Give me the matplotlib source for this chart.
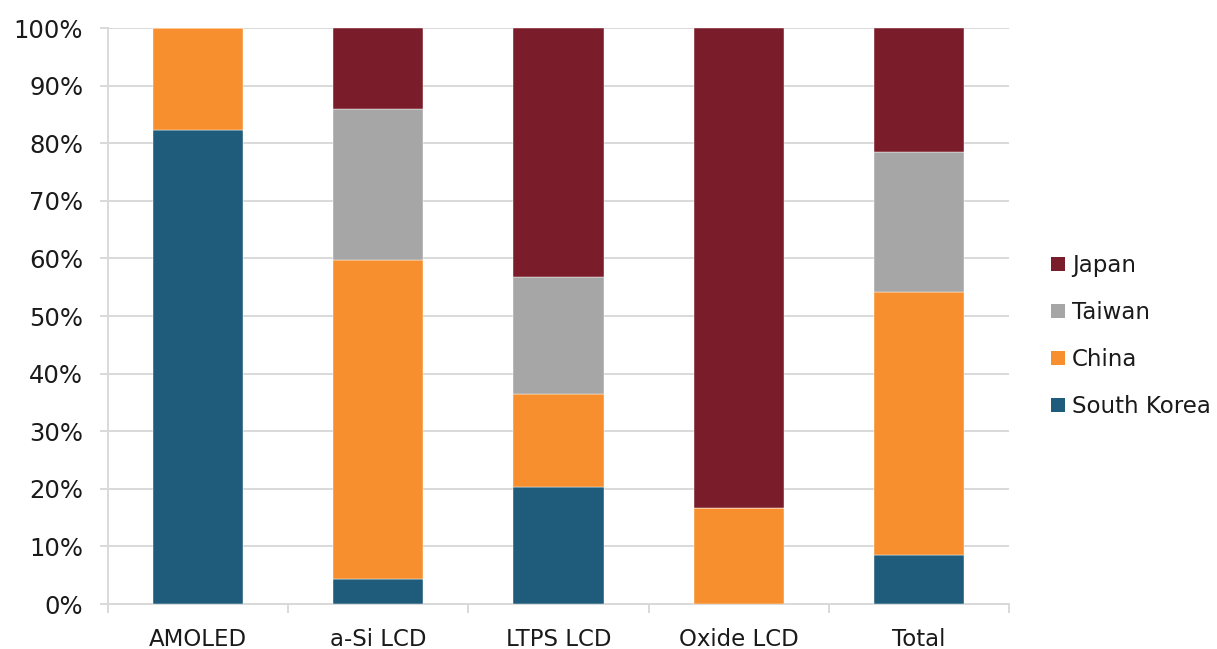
import matplotlib
matplotlib.use("Agg")
import matplotlib.pyplot as plt
import numpy as np
from matplotlib.patches import Patch
from matplotlib.ticker import FixedLocator, PercentFormatter

plt.rcParams['font.family'] = ['DejaVu Sans']

categories = ["AMOLED", "a-Si LCD", "LTPS LCD", "Oxide LCD", "Total"]
south_korea = [82.3, 4.3, 20.3, 0.0, 8.5]
china = [17.7, 55.5, 16.1, 16.6, 45.6]
taiwan = [0.0, 26.2, 20.4, 0.0, 24.4]
japan = [0.0, 14.0, 43.2, 83.4, 21.5]

series = [
    ("South Korea", south_korea, "#1F5B7A"),
    ("China", china, "#F78F2E"),
    ("Taiwan", taiwan, "#A6A6A6"),
    ("Japan", japan, "#7B1C2A"),
]

W, H = 1217, 649
fig = plt.figure(figsize=(W / 100, H / 100), dpi=100)
ax = fig.add_axes([108 / W, 45 / H, (1009 - 108) / W, (604 - 28) / H])

x = np.arange(len(categories))
bottom = np.zeros(len(categories))
for name, vals, color in series:
    vals = np.array(vals)
    ax.bar(x, vals, 0.5, bottom=bottom, color=color, edgecolor="#ffffff",
           linewidth=0.3, zorder=3)
    bottom += vals

grid_c = "#D9D9D9"
text_c = "#1a1a1a"
ax.set_xlim(-0.5, len(categories) - 0.5)
ax.set_ylim(0, 100)
ax.yaxis.set_major_locator(FixedLocator(np.arange(0, 101, 10)))
ax.yaxis.set_major_formatter(PercentFormatter(decimals=0))
ax.grid(axis="y", color=grid_c, linewidth=1.4, zorder=0)
ax.set_xticks(x)
ax.set_xticklabels(categories)
ax.set_xticks(np.arange(-0.5, len(categories)), minor=True)
ax.tick_params(axis="x", which="major", length=0, pad=17, labelsize=16.5, labelcolor=text_c)
ax.tick_params(axis="x", which="minor", length=6.5, width=1.4, color=grid_c)
ax.tick_params(axis="y", length=5.8, width=1.4, color=grid_c, labelsize=17.5,
               labelcolor=text_c, pad=12)
for s in ["top", "right"]:
    ax.spines[s].set_visible(False)
for s in ["left", "bottom"]:
    ax.spines[s].set_color(grid_c)
    ax.spines[s].set_linewidth(1.4)

handles = [Patch(facecolor=c, label=n) for n, _, c in reversed(series)]
leg = fig.legend(handles=handles, loc="center left", bbox_to_anchor=(1040 / W, 1 - 336 / H),
                 frameon=False, fontsize=16.5, handlelength=0.6, handleheight=0.6,
                 handletextpad=0.3, labelspacing=1.05, borderpad=0)
for t in leg.get_texts():
    t.set_color(text_c)

fig.savefig("out.png", dpi=100)
